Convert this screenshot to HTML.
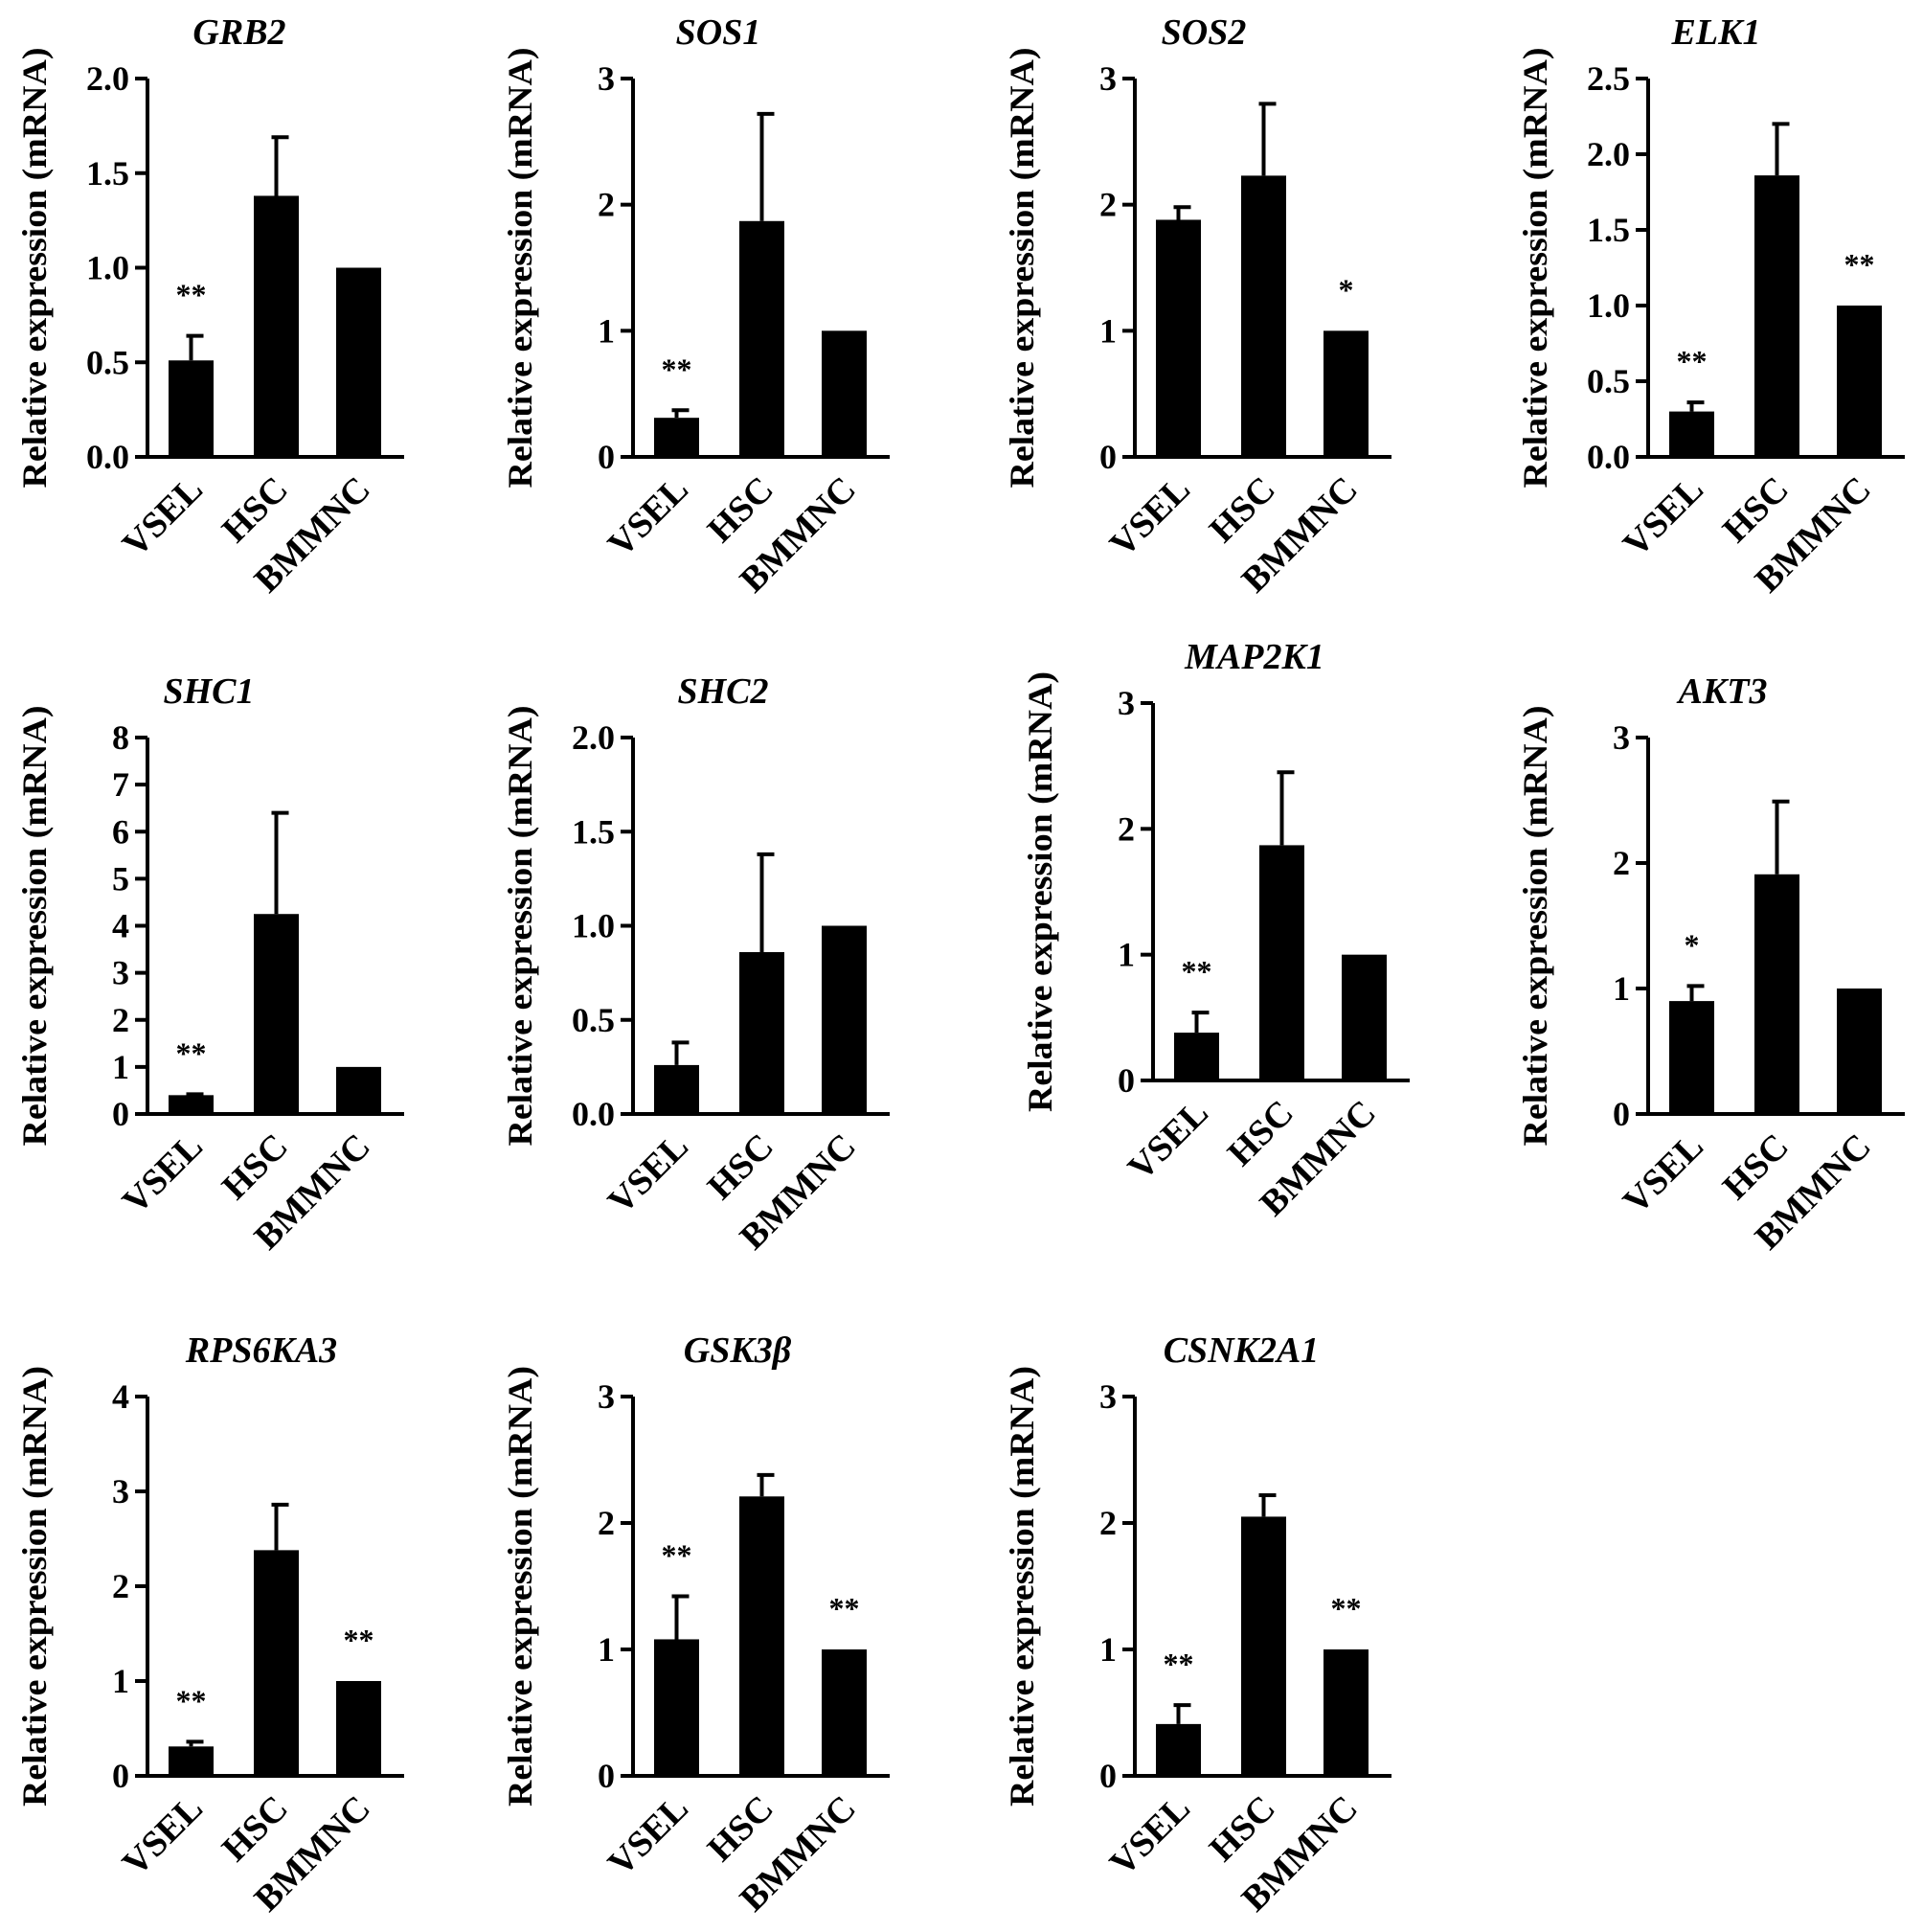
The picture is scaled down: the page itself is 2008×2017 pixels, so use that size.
<!DOCTYPE html>
<html><head><meta charset="utf-8"><style>
html,body{margin:0;padding:0;background:#fff;}
svg{display:block;}
text{font-family:"Liberation Serif",serif;font-weight:bold;fill:#000;}
</style></head><body>
<svg id="fig" width="2008" height="2017" viewBox="0 0 2008 2017" xmlns="http://www.w3.org/2000/svg"></svg>
<script>
const categories = ["VSEL","HSC","BMMNC"];
const genes = ["GRB2","SOS1","SOS2","ELK1","SHC1","SHC2","MAP2K1","AKT3","RPS6KA3","GSK3β","CSNK2A1"];
const means = [[0.51,1.38,1.0],[0.31,1.87,1.0],[1.88,2.23,1.0],[0.30,1.86,1.0],[0.40,4.25,1.0],[0.26,0.86,1.0],[0.38,1.87,1.0],[0.90,1.91,1.0],[0.31,2.38,1.0],[1.08,2.21,1.0],[0.41,2.05,1.0]];
const errTops = [[0.64,1.69,1.0],[0.37,2.72,1.0],[1.98,2.80,1.0],[0.36,2.20,1.0],[0.42,6.40,1.0],[0.38,1.38,1.0],[0.54,2.45,1.0],[1.02,2.49,1.0],[0.36,2.86,1.0],[1.42,2.38,1.0],[0.56,2.22,1.0]];
const stars = [["**","",""],["**","",""],["","","*"],["**","","**"],["**","",""],["","",""],["**","",""],["*","",""],["**","","**"],["**","","**"],["**","","**"]];
const yMax = [2.0,3,3,2.5,8,2.0,3,3,4,3,3];
const yStep = [0.5,1,1,0.5,1,0.5,1,1,1,1,1];
const tickDecimals = [1,0,0,1,0,1,0,0,0,0,0];

// layout (not data)
const L = [
 {ax:154,top:82,zero:477,tx:250},{ax:661,top:82,zero:477,tx:750},{ax:1185,top:82,zero:477,tx:1257},{ax:1721,top:82,zero:477,tx:1792},
 {ax:154,top:770,zero:1163,tx:218},{ax:661,top:770,zero:1163,tx:755},{ax:1204,top:734,zero:1128,tx:1310},{ax:1721,top:770,zero:1163,tx:1799},
 {ax:154,top:1458,zero:1854,tx:273},{ax:661,top:1458,zero:1854,tx:770},{ax:1185,top:1458,zero:1854,tx:1296}
];
const barOff=[22,111,197], barW=47, axLen=268;
const svg=document.getElementById('fig');
const NS='http://www.w3.org/2000/svg';
function mk(tag,attrs,parent){const e=document.createElementNS(NS,tag);for(const k in attrs)e.setAttribute(k,attrs[k]);parent.appendChild(e);return e;}

genes.forEach((g,i)=>{
  const l=L[i];
  const gp=mk('g',{},svg);
  
  
  const y=v=>l.zero-(v/yMax[i])*(l.zero-l.top);
  const t=mk('text',{x:l.tx,y:l.top-36,'text-anchor':'middle','font-size':38,'font-style':'italic'},gp);
  t.textContent=g;
  
  
  const yl=mk('text',{x:0,y:0,'text-anchor':'middle','font-size':36,transform:`translate(${l.ax-106},${(l.top+l.zero)/2}) rotate(-90)`,textLength:460,lengthAdjust:'spacingAndGlyphs'},gp);
  yl.textContent='Relative expression (mRNA)';
  
  
  for(let c=0;c<3;c++){
    const x0=l.ax+barOff[c], cx=x0+barW/2;
    const r=mk('rect',{x:x0,y:y(means[i][c]),width:barW,height:l.zero-y(means[i][c]),fill:'#000'},gp);
    
    
    let topY=y(means[i][c]);
    if(errTops[i][c]>means[i][c]+0.001){
      const et=y(errTops[i][c]);
      const e=mk('path',{d:`M${cx} ${y(means[i][c])}V${et}M${cx-5} ${et}H${cx+13}`,stroke:'#000','stroke-width':4,fill:'none'},gp);
      
      
      topY=et;
    }
    if(stars[i][c]){
      const s=mk('text',{x:cx,y:topY-32,'text-anchor':'middle','font-size':32,'font-weight':'normal'},gp);
      s.textContent=stars[i][c];
      
      
    }
    const xl=mk('text',{x:0,y:0,'text-anchor':'end','font-size':38,transform:`translate(${cx+14},${l.zero+36}) rotate(-45)`},gp);
    xl.textContent=categories[c];
    
    
  }
  const a=mk('path',{d:`M${l.ax} ${l.top}V${l.zero}H${l.ax+axLen}`,stroke:'#000','stroke-width':4,fill:'none'},gp);
  
  
  const n=Math.round(yMax[i]/yStep[i]);
  for(let k=0;k<=n;k++){
    const v=k*yStep[i], yy=y(v);
    const tk=mk('path',{d:`M${l.ax-13} ${yy}H${l.ax}`,stroke:'#000','stroke-width':4},gp);
    
    
    const tl=mk('text',{x:l.ax-19,y:yy+12,'text-anchor':'end','font-size':36},gp);
    tl.textContent=v.toFixed(tickDecimals[i]);
    
    
  }
});
</script>
</body></html>
